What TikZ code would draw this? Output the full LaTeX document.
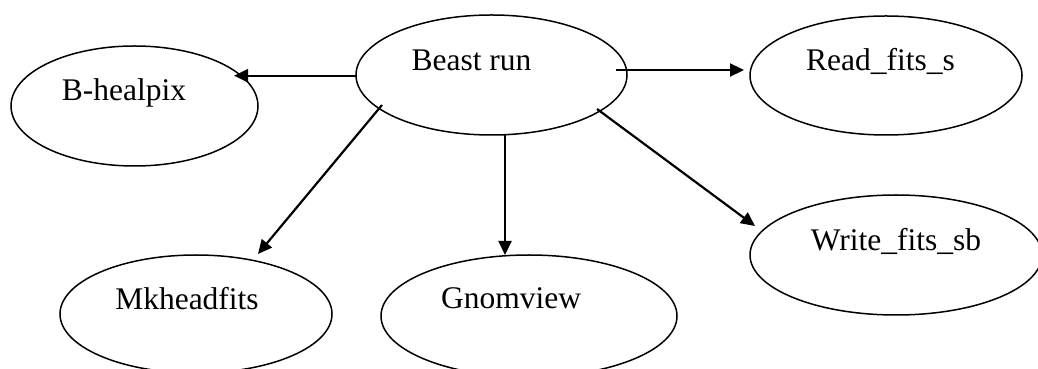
\documentclass[tikz,border=0pt]{standalone}
\usepackage{fontspec}
\setmainfont{Liberation Serif}
\usetikzlibrary{shapes.geometric,arrows.meta,calc}
\begin{document}
\begin{tikzpicture}[x=1pt,y=1pt,
  oval/.style={draw=black,line width=1.5pt,ellipse,inner sep=0pt},
  lbl/.style={anchor=base,inner sep=0pt,font=\fontsize{31.5}{36}\selectfont},
  conn/.style={line width=2.2pt,-{Triangle[length=14pt,width=13pt]}}]
\useasboundingbox (0,0) rectangle (1038,369);
\clip (0,0) rectangle (1038,369);
\node[oval,minimum width=271pt,minimum height=120pt] (beast) at (491.5,294) {};
\node[oval,minimum width=247pt,minimum height=120pt] (bhp) at (134.5,263) {};
\node[oval,minimum width=272pt,minimum height=119pt] (read) at (886,293.5) {};
\node[oval,minimum width=272pt,minimum height=118pt] (mk) at (196,55) {};
\node[oval,minimum width=296pt,minimum height=122pt] (gn) at (529,53) {};
\node[oval,minimum width=292pt,minimum height=120pt] (wr) at (896,114) {};
\node[lbl] (tbeast) at ($(beast.center)+(-20,4)$) {Beast run};
\node[lbl] (tbhp) at ($(bhp.center)+(-10.5,5.3)$) {B-healpix};
\node[lbl] (tread) at ($(read.center)+(-5.5,4.5)$) {Read\_fits\_s};
\node[lbl] (tmk) at ($(mk.center)+(-9,4)$) {Mkheadfits};
\node[lbl] (tgn) at ($(gn.center)+(-18,7)$) {Gnomview};
\node[lbl] (twr) at ($(wr.center)+(0,4)$) {Write\_fits\_sb};
\draw[conn] ($(beast.center)+(-135.5,-0.7)$) -- ($(bhp.center)+(99.5,30.3)$);
\draw[conn] ($(beast.center)+(124.5,5)$) -- ($(read.center)+(-142,5.5)$);
\draw[conn] ($(beast.center)+(-109.5,-30)$) -- ($(mk.center)+(62,60)$);
\draw[conn] ($(beast.center)+(13.5,-60)$) -- ($(gn.center)+(-24,61)$);
\draw[conn] ($(beast.center)+(105.5,-34)$) -- ($(wr.center)+(-141,29)$);
\end{tikzpicture}
\end{document}
